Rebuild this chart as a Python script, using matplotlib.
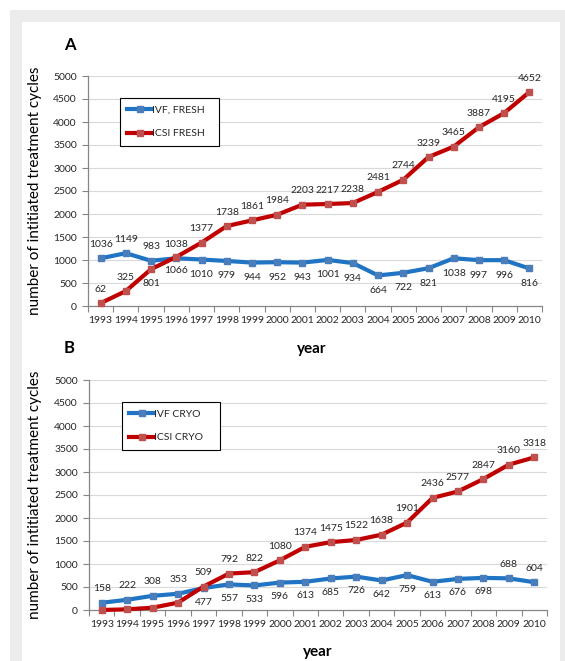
import matplotlib
matplotlib.use("Agg")
import matplotlib.pyplot as plt
from matplotlib.patches import Rectangle

years = ["1993", "1994", "1995", "1996", "1997", "1998", "1999", "2000", "2001",
         "2002", "2003", "2004", "2005", "2006", "2007", "2008", "2009", "2010"]
ivf_fresh = [1036, 1149, 983, 1038, 1010, 979, 944, 952, 943, 1001, 934, 664, 722, 821, 1038, 997, 996, 816]
icsi_fresh = [62, 325, 801, 1066, 1377, 1738, 1861, 1984, 2203, 2217, 2238, 2481, 2744, 3239, 3465, 3887, 4195, 4652]
ivf_cryo = [158, 222, 308, 353, 477, 557, 533, 596, 613, 685, 726, 642, 759, 613, 676, 698, 688, 604]
icsi_cryo = [0, 15, 50, 160, 509, 792, 822, 1080, 1374, 1475, 1522, 1638, 1901, 2436, 2577, 2847, 3160, 3318]
# label placement: +1 above, -1 below, 0 none
ivf_fresh_pos = [1, 1, 1, 1] + [-1] * 14
icsi_fresh_pos = [1, 1, -1, -1] + [1] * 14
ivf_cryo_pos = [1, 1, 1, 1] + [-1] * 12 + [1, 1]
icsi_cryo_pos = [0, 0, 0, 0] + [1] * 14
yticks = [0, 500, 1000, 1500, 2000, 2500, 3000, 3500, 4000, 4500, 5000]

FONT = "Lato"
plt.rcParams["font.family"] = [FONT, "DejaVu Sans"]

W, H = 565, 661
fig = plt.figure(figsize=(W / 100, H / 100), dpi=100)
fig.patch.set_facecolor("white")
# frame
fig.patches.append(Rectangle((10 / W, 0), (W - 10) / W, (H - 10) / H, transform=fig.transFigure,
                             facecolor="#ececec", edgecolor="none", zorder=-10))
fig.patches.append(Rectangle((22 / W, 0), (560 - 22) / W, (H - 22) / H, transform=fig.transFigure,
                             facecolor="white", edgecolor="none", zorder=-9))

BLUE_L, BLUE_M = "#1f74c4", "#4a7ebb"
RED_L, RED_M = "#c00000", "#c0504d"
SPINE = "#868686"
TXT = "#262626"
FS = 7.5


def make_axes(px_left, px_right, px_top, px_bottom):
    return fig.add_axes([px_left / W, 1 - px_bottom / H, (px_right - px_left) / W, (px_bottom - px_top) / H])


def style(ax, ylabel_x):
    n = len(years)
    x = list(range(n))
    ax.set_xlim(-0.5, n - 0.5)
    ax.set_ylim(0, 5000)
    ax.set_facecolor("none")
    ax.set_yticks(yticks)
    ax.set_yticklabels([str(v) for v in yticks], fontsize=FS, color=TXT)
    ax.set_xticks(x)
    ax.set_xticklabels(years, fontsize=FS, color=TXT)
    ax.set_xticks([i - 0.5 for i in range(n + 1)], minor=True)
    ax.tick_params(axis="x", which="major", length=0, pad=7)
    ax.tick_params(axis="x", which="minor", length=4, color=SPINE, width=0.8)
    ax.tick_params(axis="y", length=4, color=SPINE, width=0.8, pad=4)
    for s in ["top", "right"]:
        ax.spines[s].set_visible(False)
    for s in ["left", "bottom"]:
        ax.spines[s].set_color(SPINE)
        ax.spines[s].set_linewidth(0.9)
    for v in yticks[1:]:
        ax.axhline(v, color="#d9d9d9", lw=0.8, zorder=0)
    ax.set_ylabel("number of intitiated treatment cycles", fontsize=11, color="black")
    ax.yaxis.set_label_coords(ylabel_x, 0.5)
    return x


def series(ax, x, vals, pos, lc, mc, label, up, down):
    line, = ax.plot(x, vals, color=lc, lw=3, marker="s", ms=4.5, mfc=mc, mec=mc,
                    label=label, zorder=3, clip_on=False)
    for xi, v, p in zip(x, vals, pos):
        if p == 0:
            continue
        off = up if p > 0 else -down
        ax.annotate(str(v), (xi, v), xytext=(0, off), textcoords="offset pixels",
                    ha="center", va="center", fontsize=FS, color=TXT, zorder=4)
    return line


def legend(ax, handles, x0, y0, w, h, spacing, pad):
    leg = ax.legend(handles=handles, loc="upper left", bbox_to_anchor=(x0, y0, w, h), mode="expand",
                    frameon=True, fancybox=False, edgecolor="black", framealpha=1,
                    fontsize=FS, handlelength=2.4, handletextpad=0.0, labelspacing=spacing,
                    borderpad=pad, borderaxespad=0)
    leg.get_frame().set_linewidth(0.8)
    for t in leg.get_texts():
        t.set_color(TXT)
    return leg


# Panel A
TA, BA = 76, 306
axA = make_axes(88, 542, TA, BA)
x = style(axA, (42 - 88) / 454)
h1 = series(axA, x, ivf_fresh, ivf_fresh_pos, BLUE_L, BLUE_M, "IVF, FRESH", 14, 15)
h2 = series(axA, x, icsi_fresh, icsi_fresh_pos, RED_L, RED_M, "ICSI FRESH", 14, 14)
legend(axA, [h1, h2], (120 - 88) / 454, (BA - 147) / (BA - TA), (219 - 120) / 454, (147 - 98) / (BA - TA), 1.4, 0.7)

# Panel B
TB, BB = 380, 610
axB = make_axes(89, 547, TB, BB)
x = style(axB, (42 - 89) / 458)
h3 = series(axB, x, ivf_cryo, ivf_cryo_pos, BLUE_L, BLUE_M, "IVF CRYO", 14, 14)
h4 = series(axB, x, icsi_cryo, icsi_cryo_pos, RED_L, RED_M, "ICSI CRYO", 14, 14)
legend(axB, [h3, h4], (122 - 89) / 458, (BB - 451) / (BB - TB), (220 - 122) / 458, (451 - 402) / (BB - TB), 1.4, 0.7)

# Panel letters and x titles
fig.text(70 / W, 1 - 45 / H, "A", fontsize=12, fontweight="bold", ha="center", va="center")
fig.text(69 / W, 1 - 348 / H, "B", fontsize=12, fontweight="bold", ha="center", va="center")
fig.text(312 / W, 1 - 349 / H, "year", fontsize=11, fontweight="bold", ha="center", va="center")
fig.text(318 / W, 1 - 652 / H, "year", fontsize=11, fontweight="bold", ha="center", va="center")

fig.savefig("out.png", dpi=100)
